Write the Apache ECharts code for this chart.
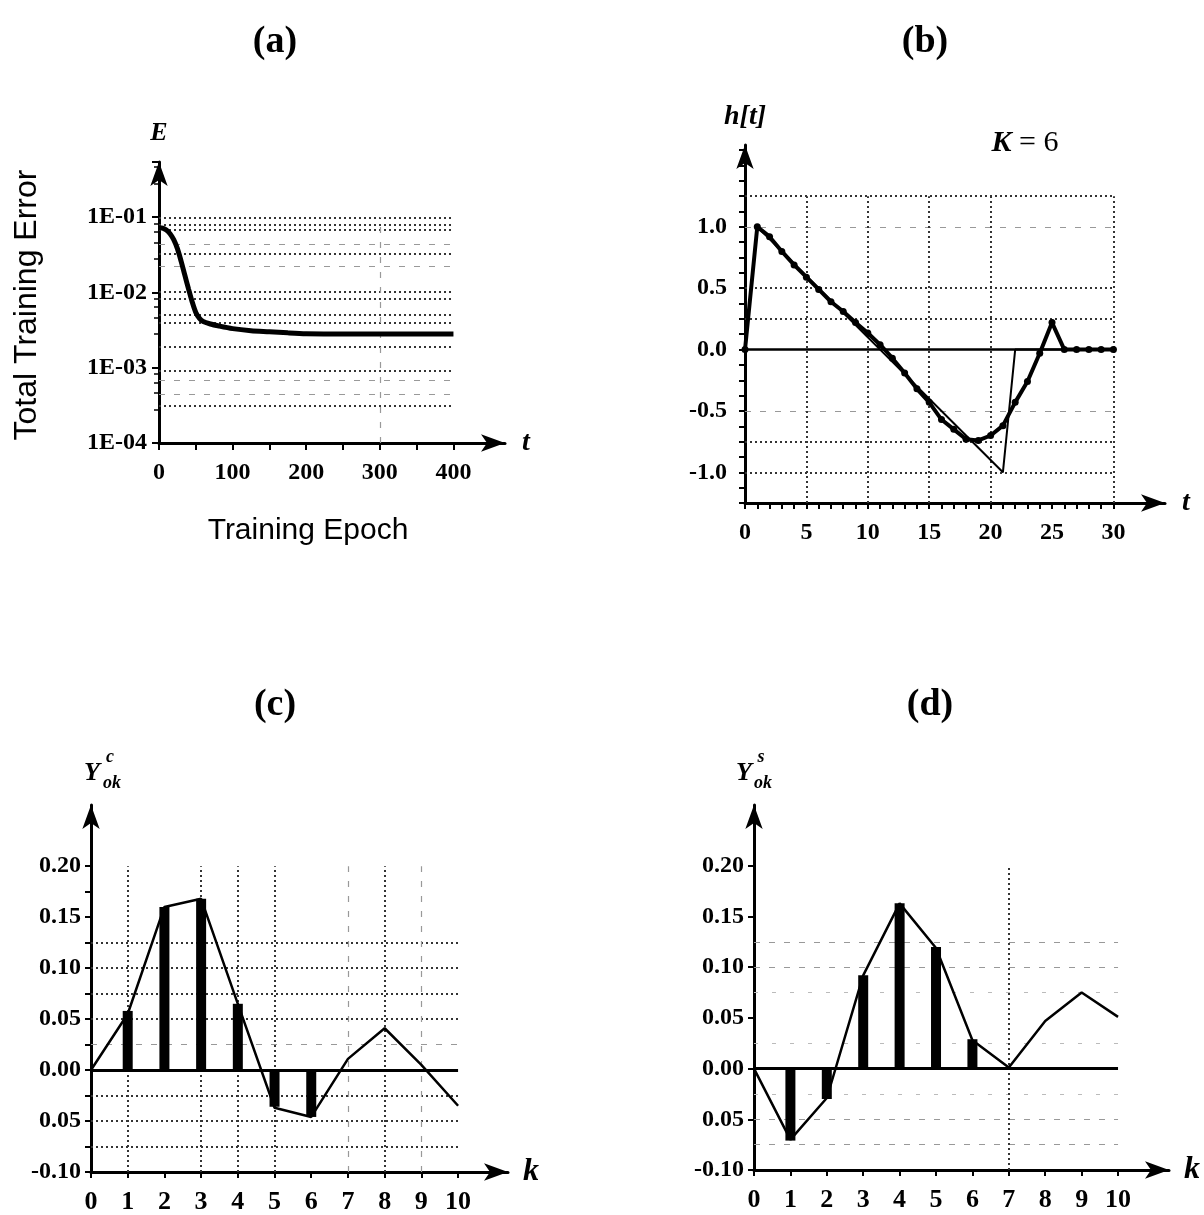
<!DOCTYPE html>
<html>
<head>
<meta charset="utf-8">
<script src="https://cdn.jsdelivr.net/npm/echarts@6/dist/echarts.min.js"></script>
<style>
html, body { margin: 0; padding: 0; background: #fff; }
#chart { width: 1204px; height: 1215px; }
</style>
</head>
<body>
<div id="chart"></div>
<script>
// (a) total training error vs epoch ---------------------------------------------
var epochs   = [0, 5, 10, 15, 20, 25, 30, 35, 40, 45, 50, 55, 60, 70, 80, 100, 125, 150, 175, 200, 250, 300, 350, 400];
var trainErr = [0.072, 0.071, 0.067, 0.06, 0.05, 0.038, 0.026, 0.017, 0.0112, 0.0075, 0.0054, 0.0045, 0.0041,
                0.0038, 0.0036, 0.0033, 0.0031, 0.0030, 0.0029, 0.00283, 0.0028, 0.0028, 0.0028, 0.0028];
var aTickLabelsX = [0, 100, 200, 300, 400];
var aTicksX = [0, 50, 100, 150, 200, 250, 300, 350, 400];
var aGridY  = [0.097, 0.078, 0.067, 0.033, 0.0102, 0.0082, 0.0051, 0.0040, 0.0019, 0.00091, 0.00031];
var aFaintY = [0.044, 0.022, 0.00068, 0.00044];
var aGridX  = [300];

// (b) h[t], K = 6 ---------------------------------------------------------------
var hT      = [0, 1, 2, 3, 4, 5, 6, 7, 8, 9, 10, 11, 12, 13, 14, 15, 16, 17, 18, 19, 20, 21, 22, 23, 24, 25, 26, 27, 28, 29, 30];
var hOut    = [0, 1.0, 0.92, 0.8, 0.69, 0.59, 0.49, 0.39, 0.31, 0.22, 0.135, 0.04, -0.07, -0.19, -0.32, -0.43,
               -0.57, -0.65, -0.73, -0.74, -0.70, -0.62, -0.43, -0.26, -0.03, 0.22, 0, 0, 0, 0, 0];
var hTarget = [0, 1.0, 0.9, 0.8, 0.7, 0.6, 0.5, 0.4, 0.3, 0.2, 0.1, 0, -0.1, -0.2, -0.3, -0.4,
               -0.5, -0.6, -0.7, -0.8, -0.9, -1.0, 0, 0, 0, 0, 0, 0, 0, 0, 0];
var bTickLabelsX = [0, 5, 10, 15, 20, 25, 30];
var bTickLabelsY = [-1.0, -0.5, 0.0, 0.5, 1.0];
var bGridY  = [1.25, 0.5, 0.25, -0.75, -1.0];
var bFaintY = [1.0, -0.5];
var bGridX  = [5, 10, 15, 20, 30];

// (c) Y_ok^c ---------------------------------------------------------------------
var kVals   = [0, 1, 2, 3, 4, 5, 6, 7, 8, 9, 10];
var cLine   = [0, 0.055, 0.16, 0.168, 0.065, -0.037, -0.046, 0.011, 0.041, 0.005, -0.035];
var cBars   = [null, 0.058, 0.16, 0.168, 0.065, -0.036, -0.046, null, null, null, null];
var cGridY  = [0.125, 0.10, 0.075, 0.05, -0.025, -0.05, -0.075];
var cFaintY = [0.025];
var cGridX  = [1, 3, 4, 5, 8];
var cFaintX = [7, 9];

// (d) Y_ok^s ---------------------------------------------------------------------
var dLine   = [0, -0.070, -0.029, 0.092, 0.163, 0.119, 0.028, 0.001, 0.047, 0.075, 0.051];
var dBars   = [null, -0.071, -0.03, 0.092, 0.163, 0.12, 0.029, null, null, null, null];
var dGridY  = [0.125, 0.10, -0.05, -0.075];
var dFaintY = [0.075, 0.025, -0.025];
var dGridX  = [7];

var yTickLabelsCD = [-0.10, -0.05, 0.00, 0.05, 0.10, 0.15, 0.20];

var SERIF = "'Liberation Serif', 'DejaVu Serif', serif";
var SANS = "'Liberation Sans', Arial, sans-serif";

function steps(a, b, s) {
    var out = [];
    for (var v = a; v <= b + 1e-9; v += s) out.push(Math.round(v * 1000) / 1000);
    return out;
}
function pairs(xs, ys) {
    var out = [];
    for (var i = 0; i < xs.length; i++) if (ys[i] != null) out.push([xs[i], ys[i]]);
    return out;
}
var DOTTED = {type: [2, 3], color: '#333', width: 2};
var FAINT  = {type: [6, 9], color: '#999', width: 1.2};
function hLines(vals, x0, x1, style) {
    return vals.map(function (v) { return [{coord: [x0, v], lineStyle: style}, {coord: [x1, v]}]; });
}
function vLines(vals, y0, y1, style) {
    return vals.map(function (v) { return [{coord: [v, y0], lineStyle: style}, {coord: [v, y1]}]; });
}
function markLines(data) {
    return {silent: true, symbol: ['none', 'none'], label: {show: false}, z: 1, data: data, animation: false};
}
function axisLine() {
    return {show: true, onZero: false, symbol: ['none', 'arrow'], symbolSize: [13, 24],
            lineStyle: {color: '#000', width: 3}};
}
function lbl(extra) {
    return Object.assign({color: '#000', fontFamily: SERIF, fontWeight: 'bold', fontSize: 24}, extra || {});
}
function nameStyle(size) {
    return {color: '#000', fontFamily: SERIF, fontStyle: 'italic', fontWeight: 'bold', fontSize: size};
}
function cdLabel(v) {
    if (Math.abs(v + 0.05) < 1e-9) return '0.05'; // printed without minus in the figure
    return v.toFixed(2);
}

var chart = echarts.init(document.getElementById('chart'));

var option = {
    backgroundColor: '#fff',
    animation: false,
    grid: [
        {left: 159, top: 162, width: 346, height: 281},
        {left: 745, top: 145, width: 420, height: 358},
        {left: 91, top: 805, width: 417, height: 367},
        {left: 754, top: 805, width: 415, height: 365}
    ],
    xAxis: [
        {gridIndex: 0, type: 'value', min: 0, max: 470, name: 't', nameLocation: 'end', nameGap: 17,
         nameTextStyle: nameStyle(28), axisLine: axisLine(), splitLine: {show: false},
         axisTick: {show: true, length: 7, customValues: aTicksX, lineStyle: {color: '#000', width: 2}},
         axisLabel: lbl({margin: 18, customValues: aTickLabelsX})},
        {gridIndex: 1, type: 'value', min: 0, max: 34.2, name: 't', nameLocation: 'end', nameGap: 17,
         nameTextStyle: nameStyle(28), axisLine: axisLine(), splitLine: {show: false},
         axisTick: {show: true, length: 6, customValues: steps(0, 30, 1), lineStyle: {color: '#000', width: 2}},
         axisLabel: lbl({margin: 18, customValues: bTickLabelsX})},
        {gridIndex: 2, type: 'value', min: 0, max: 11.36, name: 'k', nameLocation: 'end', nameGap: 15,
         nameTextStyle: nameStyle(32), axisLine: axisLine(), splitLine: {show: false},
         axisTick: {show: true, length: 6, customValues: kVals, lineStyle: {color: '#000', width: 2}},
         axisLabel: lbl({margin: 17, fontSize: 26, customValues: kVals})},
        {gridIndex: 3, type: 'value', min: 0, max: 11.4, name: 'k', nameLocation: 'end', nameGap: 15,
         nameTextStyle: nameStyle(32), axisLine: axisLine(), splitLine: {show: false},
         axisTick: {show: true, length: 6, customValues: kVals, lineStyle: {color: '#000', width: 2}},
         axisLabel: lbl({margin: 17, fontSize: 26, customValues: kVals})}
    ],
    yAxis: [
        {gridIndex: 0, type: 'log', logBase: 10, min: 0.0001, max: 0.537, name: 'E', nameLocation: 'end',
         nameGap: 16, nameTextStyle: nameStyle(26), axisLine: axisLine(), splitLine: {show: false},
         axisTick: {show: true, length: 7, lineStyle: {color: '#000', width: 2}},
         minorTick: {show: true, splitNumber: 5, length: 5, lineStyle: {color: '#000', width: 1.5}},
         axisLabel: lbl({margin: 12, formatter: function (v) {
             var p = Math.log10(v), r = Math.round(p);
             if (Math.abs(p - r) > 1e-6) return '';
             return '1E-0' + (-r);
         }})},
        {gridIndex: 1, type: 'value', min: -1.25, max: 1.667, name: 'h[t]', nameLocation: 'end', nameGap: 14,
         nameTextStyle: nameStyle(28), axisLine: axisLine(), splitLine: {show: false},
         axisTick: {show: true, length: 6, customValues: steps(-1.25, 1.625, 0.125), lineStyle: {color: '#000', width: 2}},
         axisLabel: lbl({margin: 18, customValues: bTickLabelsY, formatter: function (v) { return v.toFixed(1); }})},
        {gridIndex: 2, type: 'value', min: -0.1, max: 0.26, axisLine: axisLine(), splitLine: {show: false},
         axisTick: {show: true, length: 6, customValues: steps(-0.1, 0.2, 0.025), lineStyle: {color: '#000', width: 2}},
         axisLabel: lbl({margin: 10, customValues: yTickLabelsCD, formatter: cdLabel})},
        {gridIndex: 3, type: 'value', min: -0.1, max: 0.26, axisLine: axisLine(), splitLine: {show: false},
         axisTick: {show: true, length: 6, customValues: steps(-0.1, 0.2, 0.05), lineStyle: {color: '#000', width: 2}},
         axisLabel: lbl({margin: 10, customValues: yTickLabelsCD, formatter: cdLabel})}
    ],
    series: [
        // (a)
        {type: 'line', xAxisIndex: 0, yAxisIndex: 0, data: [],
         markLine: markLines(hLines(aGridY, 0, 400, DOTTED).concat(hLines(aFaintY, 0, 400, FAINT))
                             .concat(vLines(aGridX, 0.0001, 0.1, FAINT)))},
        {type: 'line', xAxisIndex: 0, yAxisIndex: 0, data: pairs(epochs, trainErr), symbol: 'none',
         smooth: 0.3, z: 3, lineStyle: {color: '#000', width: 5}},
        // (b)
        {type: 'line', xAxisIndex: 1, yAxisIndex: 1, data: [],
         markLine: markLines(hLines(bGridY, 0, 30, DOTTED).concat(hLines(bFaintY, 0, 30, FAINT))
                             .concat(vLines(bGridX, -1.25, 1.25, DOTTED)))},
        {type: 'line', xAxisIndex: 1, yAxisIndex: 1, data: [],
         markLine: Object.assign(markLines(hLines([0], 0, 30, {type: 'solid', color: '#000', width: 2.5})), {z: 2})},
        {type: 'line', xAxisIndex: 1, yAxisIndex: 1, data: pairs(hT, hTarget), symbol: 'none', z: 3,
         lineStyle: {color: '#000', width: 2}},
        {type: 'line', xAxisIndex: 1, yAxisIndex: 1, data: pairs(hT, hOut), symbol: 'circle', symbolSize: 7,
         showAllSymbol: true, z: 4, itemStyle: {color: '#000'}, lineStyle: {color: '#000', width: 4}},
        // (c)
        {type: 'line', xAxisIndex: 2, yAxisIndex: 2, data: [],
         markLine: markLines(hLines(cGridY, 0, 10, DOTTED).concat(hLines(cFaintY, 0, 10, FAINT))
                             .concat(vLines(cGridX, -0.1, 0.2, DOTTED)).concat(vLines(cFaintX, -0.1, 0.2, FAINT)))},
        {type: 'line', xAxisIndex: 2, yAxisIndex: 2, data: [],
         markLine: Object.assign(markLines(hLines([0], 0, 10, {type: 'solid', color: '#000', width: 3})), {z: 2})},
        {type: 'bar', xAxisIndex: 2, yAxisIndex: 2, data: pairs(kVals, cBars), barWidth: 10, z: 3,
         itemStyle: {color: '#000'}},
        {type: 'line', xAxisIndex: 2, yAxisIndex: 2, data: pairs(kVals, cLine), symbol: 'none', z: 4,
         lineStyle: {color: '#000', width: 2.5}},
        // (d)
        {type: 'line', xAxisIndex: 3, yAxisIndex: 3, data: [],
         markLine: markLines(hLines(dGridY, 0, 10, FAINT).concat(hLines(dFaintY, 0, 10, {type: [4, 14], color: '#bbb', width: 1}))
                             .concat(vLines(dGridX, -0.1, 0.2, DOTTED)))},
        {type: 'line', xAxisIndex: 3, yAxisIndex: 3, data: [],
         markLine: Object.assign(markLines(hLines([0], 0, 10, {type: 'solid', color: '#000', width: 3})), {z: 2})},
        {type: 'bar', xAxisIndex: 3, yAxisIndex: 3, data: pairs(kVals, dBars), barWidth: 10, z: 3,
         itemStyle: {color: '#000'}},
        {type: 'line', xAxisIndex: 3, yAxisIndex: 3, data: pairs(kVals, dLine), symbol: 'none', z: 4,
         lineStyle: {color: '#000', width: 2.5}}
    ],
    graphic: [
        {type: 'text', x: 275, y: 42, style: {text: '(a)', font: 'bold 38px ' + SERIF, fill: '#000', align: 'center', verticalAlign: 'middle'}},
        {type: 'text', x: 925, y: 42, style: {text: '(b)', font: 'bold 38px ' + SERIF, fill: '#000', align: 'center', verticalAlign: 'middle'}},
        {type: 'text', x: 275, y: 705, style: {text: '(c)', font: 'bold 38px ' + SERIF, fill: '#000', align: 'center', verticalAlign: 'middle'}},
        {type: 'text', x: 930, y: 705, style: {text: '(d)', font: 'bold 38px ' + SERIF, fill: '#000', align: 'center', verticalAlign: 'middle'}},
        {type: 'text', x: 27, y: 305, rotation: Math.PI / 2,
         style: {text: 'Total Training Error', font: '32px ' + SANS, fill: '#000', align: 'center', verticalAlign: 'middle'}},
        {type: 'text', x: 308, y: 531,
         style: {text: 'Training Epoch', font: '30px ' + SANS, fill: '#000', align: 'center', verticalAlign: 'middle'}},
        {type: 'text', x: 1025, y: 143,
         style: {text: '{i|K} = 6', font: '30px ' + SERIF, fill: '#000', align: 'center', verticalAlign: 'middle',
                 rich: {i: {fontStyle: 'italic', fontWeight: 'bold', fontSize: 30, fontFamily: SERIF}}}},
        // Y labels of (c) and (d)
        {type: 'text', x: 92, y: 773, style: {text: 'Y', font: 'italic bold 26px ' + SERIF, fill: '#000', align: 'center', verticalAlign: 'middle'}},
        {type: 'text', x: 110, y: 757, style: {text: 'c', font: 'italic bold 18px ' + SERIF, fill: '#000', align: 'center', verticalAlign: 'middle'}},
        {type: 'text', x: 112, y: 783, style: {text: 'ok', font: 'italic bold 18px ' + SERIF, fill: '#000', align: 'center', verticalAlign: 'middle'}},
        {type: 'text', x: 744, y: 773, style: {text: 'Y', font: 'italic bold 26px ' + SERIF, fill: '#000', align: 'center', verticalAlign: 'middle'}},
        {type: 'text', x: 761, y: 757, style: {text: 's', font: 'italic bold 18px ' + SERIF, fill: '#000', align: 'center', verticalAlign: 'middle'}},
        {type: 'text', x: 763, y: 783, style: {text: 'ok', font: 'italic bold 18px ' + SERIF, fill: '#000', align: 'center', verticalAlign: 'middle'}}
    ]
};

chart.setOption(option);
</script>
</body>
</html>
